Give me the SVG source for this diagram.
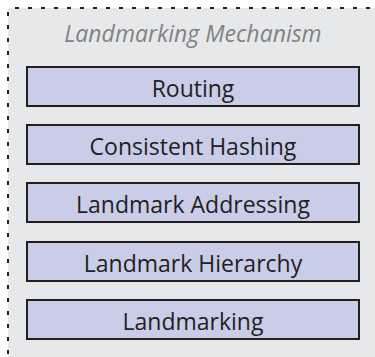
<svg xmlns="http://www.w3.org/2000/svg" width="375" height="357" viewBox="0 0 375 357">
<style>
.bg{fill:#e7e8ea}
.dash{stroke:#231f20;stroke-width:2;stroke-dasharray:4 9;fill:none}
.box{fill:#c9cde8;stroke:#231f20;stroke-width:2}
.lbl{font-family:"Open Sans","Liberation Sans",sans-serif;font-size:23px;fill:#231f20;text-anchor:middle}
.title{font-family:"Open Sans","Liberation Sans",sans-serif;font-size:23px;font-style:italic;fill:#808285;text-anchor:middle}
</style>
<g id="panel">
<rect class="bg" x="8" y="8" width="367" height="349"/>
<line class="dash" x1="15" y1="8" x2="375" y2="8"/>
<line class="dash" x1="8" y1="12" x2="8" y2="357"/>
<text class="title" x="193" y="42">Landmarking Mechanism</text>
</g>
<g id="connectors"></g>
<g id="routing"><rect class="box" x="27" y="67" width="332" height="39"/><text class="lbl" x="193" y="97">Routing</text></g>
<g id="hashing"><rect class="box" x="27" y="125" width="332" height="39"/><text class="lbl" x="193" y="155">Consistent Hashing</text></g>
<g id="addressing"><rect class="box" x="27" y="183" width="332" height="39"/><text class="lbl" x="193" y="213">Landmark Addressing</text></g>
<g id="hierarchy"><rect class="box" x="27" y="242" width="332" height="39"/><text class="lbl" x="193" y="272">Landmark Hierarchy</text></g>
<g id="landmarking"><rect class="box" x="27" y="300" width="332" height="39"/><text class="lbl" x="193" y="330">Landmarking</text></g>
</svg>
